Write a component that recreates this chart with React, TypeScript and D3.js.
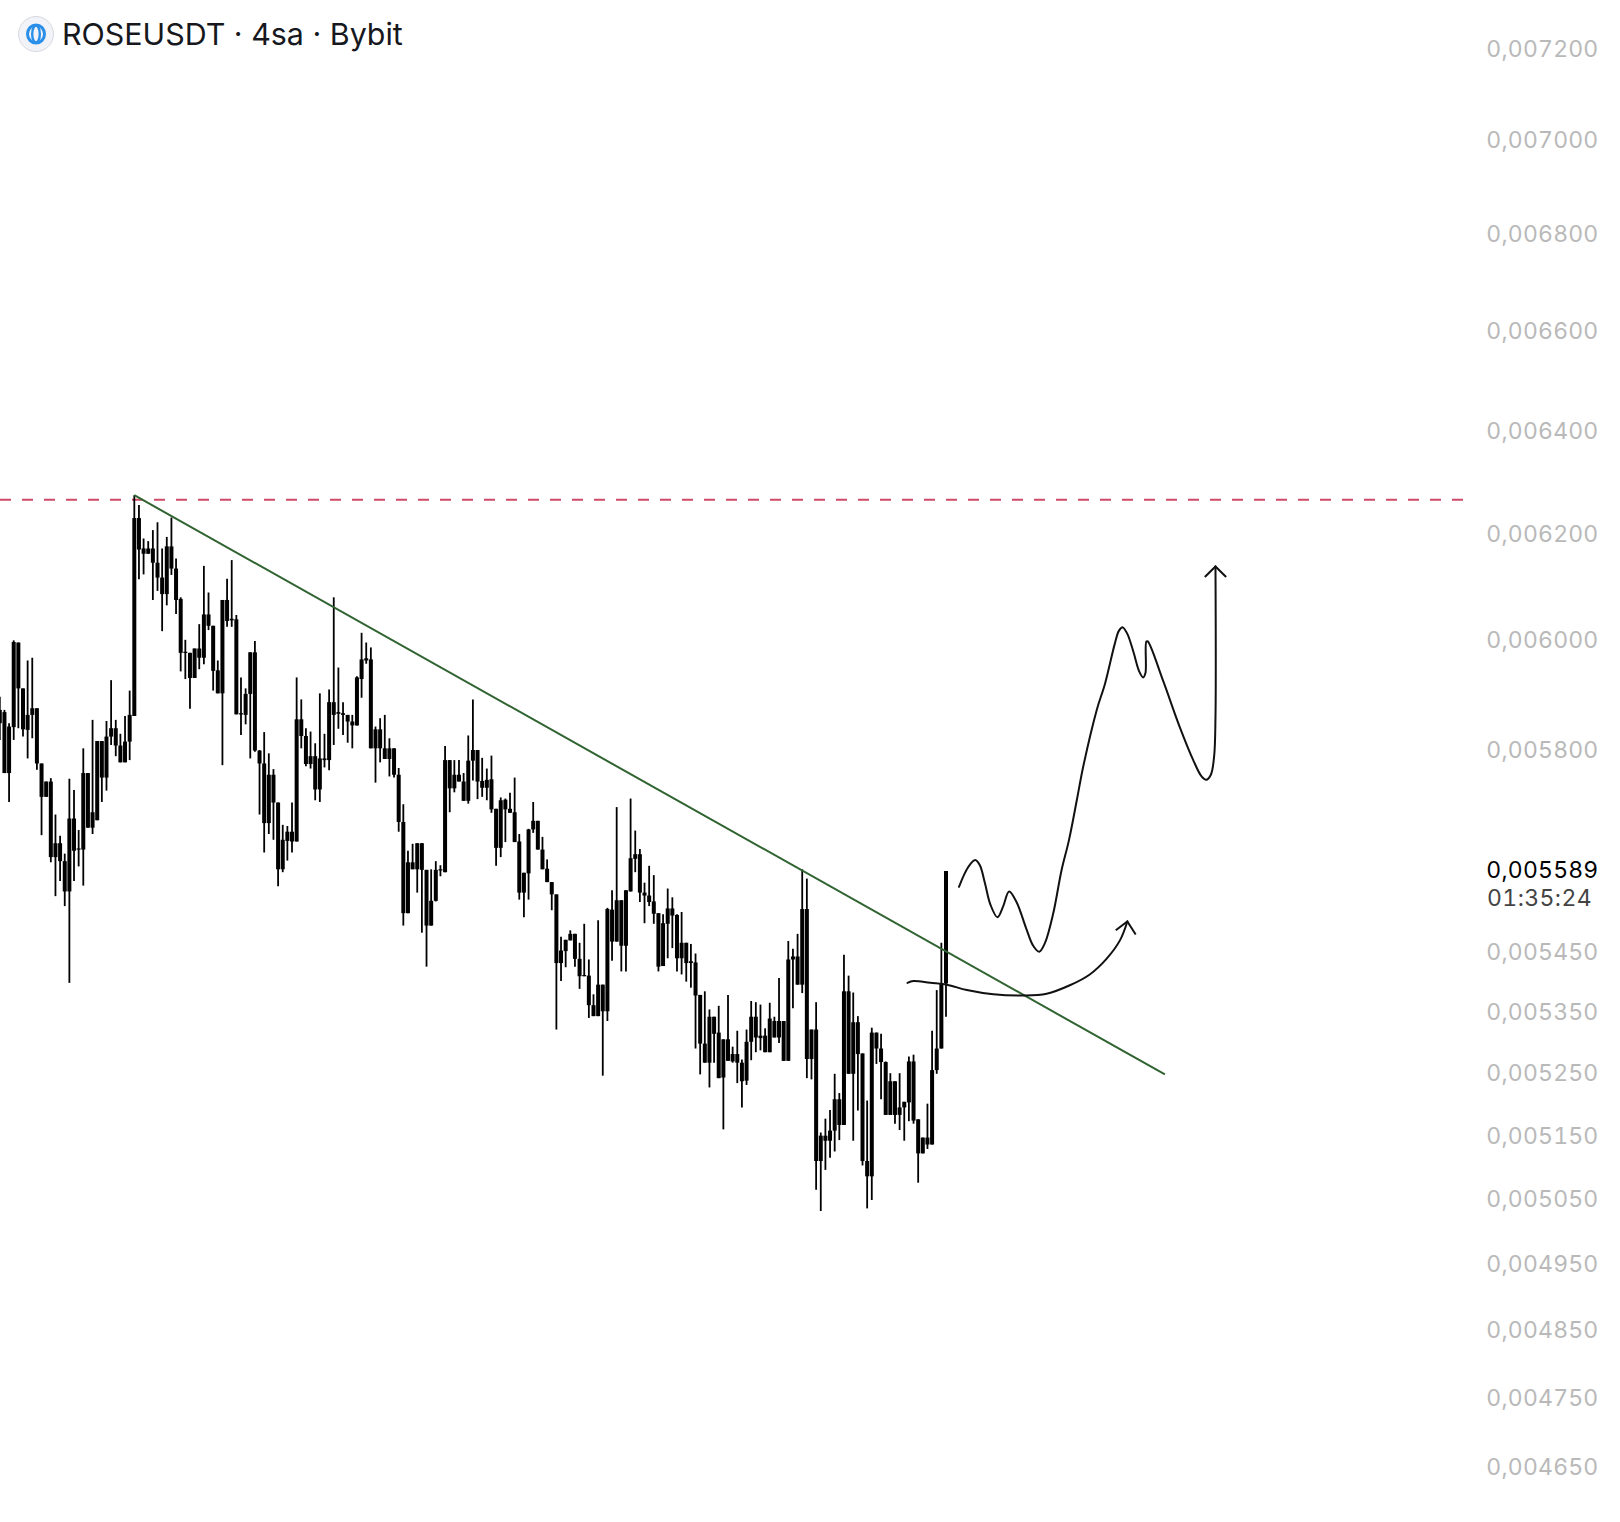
import React from "react";
import * as d3 from "d3";

const WIDTH = 1620;
const HEIGHT = 1522;
const TITLE = "ROSEUSDT · 4sa · Bybit";

// Prices in millionths of a USDT (5589 = 0,005589)
const highs = [
5900,5876,5852,6003,5999,5915,5966,5971,5879,5780,5748,5754,5690,5653,5622,5753,5733,5663,5807,5763,
5858,5820,5820,5856,5930,5858,5833,5865,5911,6277,6258,6194,6189,6210,6225,6175,6197,6234,6156,6083,
6004,5980,5988,6033,6142,6092,6030,5966,6078,6118,6153,6050,5935,5915,5981,6002,5804,5836,5798,5770,
5711,5672,5670,5711,5935,5895,5843,5837,5816,5906,5833,5913,6083,5953,5890,5867,5867,5937,6017,5999,
5990,5846,5861,5867,5825,5807,5772,5708,5627,5639,5640,5640,5594,5595,5609,5602,5811,5786,5786,5786,
5763,5830,5895,5804,5790,5771,5794,5700,5720,5718,5728,5755,5656,5589,5665,5712,5679,5651,5612,5573,
5552,5480,5475,5491,5485,5470,5502,5442,5384,5508,5400,5529,5559,5703,5542,5559,5718,5662,5630,5572,
5601,5585,5520,5518,5562,5547,5518,5522,5470,5468,5452,5383,5389,5359,5347,5365,5310,5383,5298,5324,
5277,5326,5373,5371,5367,5328,5370,5347,5411,5340,5473,5460,5485,5595,5579,5326,5371,5160,5182,5196,
5254,5223,5450,5415,5387,5348,5287,5211,5329,5321,5319,5274,5255,5242,5255,5209,5282,5285,5181,5152,
5206,5324,5391,5470,5592];
const bodyTops = [
5876,5872,5846,6000,5999,5915,5867,5879,5879,5780,5748,5748,5640,5640,5609,5683,5683,5631,5763,5763,
5694,5820,5820,5828,5843,5843,5812,5819,5867,6233,6233,6175,6175,6175,6148,6120,6179,6179,6137,6080,
5982,5980,5988,5988,6051,6051,6030,5948,6078,6078,6043,6042,5870,5905,5981,5981,5803,5780,5760,5760,
5711,5646,5660,5660,5859,5859,5829,5793,5793,5789,5789,5890,5890,5872,5870,5867,5855,5935,5968,5970,
5968,5841,5841,5807,5807,5807,5760,5677,5607,5607,5640,5640,5594,5541,5594,5595,5786,5786,5760,5760,
5748,5785,5804,5804,5749,5751,5752,5700,5715,5716,5700,5694,5643,5589,5664,5679,5679,5629,5596,5573,
5552,5457,5475,5485,5485,5443,5416,5415,5366,5400,5400,5527,5526,5542,5542,5559,5614,5621,5621,5555,
5550,5540,5520,5503,5528,5528,5517,5470,5470,5439,5437,5383,5303,5347,5347,5321,5310,5310,5286,5286,
5272,5306,5347,5347,5316,5316,5344,5340,5340,5340,5442,5447,5447,5527,5527,5326,5326,5155,5155,5163,
5213,5213,5389,5389,5338,5338,5287,5115,5321,5321,5295,5273,5242,5242,5200,5209,5274,5274,5181,5152,
5152,5260,5295,5402,5592];
const bodyBottoms = [
5852,5763,5763,5845,5915,5841,5840,5867,5780,5721,5721,5616,5616,5609,5557,5557,5627,5629,5629,5667,
5667,5680,5755,5755,5828,5812,5782,5782,5819,5865,6173,6165,6165,6148,6120,6089,6089,6137,6078,5980,
5980,5934,5934,5971,5971,6030,5947,5906,5906,6039,6040,5868,5868,5867,5905,5803,5780,5675,5675,5711,
5595,5595,5644,5643,5643,5829,5779,5779,5734,5734,5786,5786,5867,5869,5867,5855,5848,5848,5932,5966,
5807,5807,5807,5788,5788,5760,5677,5520,5520,5595,5595,5594,5499,5499,5541,5593,5590,5736,5736,5748,
5714,5714,5785,5748,5737,5737,5699,5632,5632,5699,5693,5642,5555,5555,5588,5664,5629,5595,5573,5552,
5436,5436,5456,5474,5443,5414,5414,5366,5348,5348,5356,5356,5472,5472,5465,5465,5557,5613,5555,5550,
5539,5519,5430,5431,5502,5516,5444,5444,5436,5436,5382,5303,5272,5272,5319,5247,5248,5275,5274,5272,
5242,5243,5306,5313,5312,5289,5289,5313,5313,5275,5275,5442,5400,5400,5278,5278,5115,5115,5147,5147,
5163,5172,5172,5254,5254,5286,5115,5091,5091,5295,5273,5188,5188,5188,5188,5200,5208,5179,5127,5127,
5141,5141,5260,5295,5402];
const lows = [
5822,5763,5712,5822,5843,5828,5789,5825,5769,5654,5721,5607,5549,5575,5532,5403,5575,5600,5567,5667,
5656,5680,5712,5732,5813,5793,5782,5782,5786,5865,6117,6126,6165,6078,6095,6020,6068,6125,6052,5946,
5932,5878,5934,5950,5959,6022,5911,5906,5777,6028,6028,5868,5831,5850,5789,5801,5690,5624,5656,5646,
5566,5590,5610,5624,5643,5807,5775,5771,5715,5712,5773,5768,5813,5842,5831,5817,5807,5848,5898,5960,
5807,5746,5782,5788,5757,5755,5660,5499,5520,5595,5555,5487,5430,5499,5540,5583,5590,5694,5729,5748,
5714,5709,5750,5717,5721,5715,5693,5601,5616,5642,5693,5642,5543,5513,5543,5658,5629,5595,5573,5525,
5326,5406,5429,5474,5430,5393,5414,5345,5348,5348,5251,5340,5440,5472,5422,5422,5557,5590,5539,5503,
5532,5502,5422,5431,5444,5461,5422,5417,5405,5395,5295,5253,5272,5232,5272,5247,5165,5275,5272,5239,
5200,5236,5276,5289,5292,5289,5289,5313,5304,5275,5275,5361,5400,5386,5247,5245,5070,5037,5101,5120,
5130,5148,5172,5254,5147,5195,5108,5041,5054,5270,5213,5188,5188,5174,5164,5147,5178,5174,5081,5127,
5134,5141,5254,5295,5347];

// Resistance level and trend line
const levelPrice = 6268;
const trendBars = [29, 251.2];
const trendPrices = [6277, 5253];

// Hand-drawn projections: bar index and price of each stroke point
const swingBars = [206.8,208.8,210.3,211.3,212.4,213.6,215.1,216.3,217.6,219.2,221.3,222.8,224.1,225.3,227.1,228.9,230.5,232.2,233.6,236.5,238.3,240.4,241.3,242.1,243.1,244.4,245.7,246.5,247,247.2,247.5,250.8,254.4,257.3,259.1,260.1,261.1,261.8,262.1,262.1];
const swingPrices = [5565,5599,5611,5602,5571,5534,5513,5531,5557,5539,5494,5465,5455,5469,5519,5593,5645,5715,5775,5876,5924,5997,6021,6027,6015,5982,5945,5935,5943,6001,6001,5929,5845,5786,5757,5751,5760,5792,5863,6141];
const swingHeadBars = [259.8, 262.1, 264.4];
const swingHeadPrices = [6121, 6141, 6121];
const curveBars = [195.7,197,200.6,204.2,208.5,214.2,220.7,225.7,230.7,235,238.6,241.5,243.1];
const curvePrices = [5403,5406,5403,5400,5391,5384,5382,5385,5399,5417,5443,5474,5506];
const curveHeadBars = [240.6, 243.1, 244.9];
const curveHeadPrices = [5491, 5506, 5484];

// Price axis labels
const tickValues = [7200,7000,6800,6600,6400,6200,6000,5800,5450,5350,5250,5150,5050,4950,4850,4750,4650];
const lastPrice = 5589;
const countdown = "01:35:24";

const fontFamily = "Inter, 'Noto Sans', sans-serif";
const label = (v: number) => "0,00" + String(v);

export default function App() {
  const x = d3.scaleLinear().domain([0, 204]).range([-0.2, 946]);
  const y = d3.scaleLog().domain([7200, 4650]).range([49, 1471]);
  const axisY = d3.scaleLog().domain([7200, 4650]).range([48.5, 1466.5]);
  const straight = d3.line<[number, number]>().x((d) => x(d[0])).y((d) => y(d[1]));
  const smooth = d3.line<[number, number]>().x((d) => x(d[0])).y((d) => y(d[1])).curve(d3.curveCatmullRom.alpha(0.5));
  const zip = (a: number[], b: number[]) => a.map((v, i) => [v, b[i]] as [number, number]);

  return (
    <svg width={WIDTH} height={HEIGHT} viewBox={`0 0 ${WIDTH} ${HEIGHT}`}
      style={{ position: "absolute", left: 0, top: 0, display: "block", background: "#fff" }}>
      <line x1={0} x2={1469} y1={y(levelPrice)} y2={y(levelPrice)} stroke="#cf4a68" strokeWidth={2} strokeDasharray="11 11" />
      <g>
        {highs.map((h, i) => (
          <g key={i}>
            <line x1={x(i)} x2={x(i)} y1={y(h)} y2={y(lows[i])} stroke="#000" strokeWidth={1.8} />
            <rect x={x(i) - 2} width={4} y={y(bodyTops[i])}
              height={Math.max(1.2, y(bodyBottoms[i]) - y(bodyTops[i]))} fill="#000" />
          </g>
        ))}
      </g>
      <path d={straight(zip(trendBars, trendPrices)) ?? ""} fill="none" stroke="#2f6330" strokeWidth={2} />
      <path d={smooth(zip(swingBars, swingPrices)) ?? ""} fill="none" stroke="#111" strokeWidth={2} strokeLinecap="round" />
      <path d={straight(zip(swingHeadBars, swingHeadPrices)) ?? ""} fill="none" stroke="#111" strokeWidth={2} />
      <path d={smooth(zip(curveBars, curvePrices)) ?? ""} fill="none" stroke="#111" strokeWidth={2} strokeLinecap="round" />
      <path d={straight(zip(curveHeadBars, curveHeadPrices)) ?? ""} fill="none" stroke="#111" strokeWidth={2} />

      <circle cx={36} cy={34} r={17.5} fill="#f1f3f9" stroke="#d8d9de" strokeWidth={1} />
      <ellipse cx={36} cy={34} rx={8.5} ry={9} fill="none" stroke="#2a8fe8" strokeWidth={3} />
      <ellipse cx={36} cy={34} rx={3.8} ry={8.5} fill="none" stroke="#2a8fe8" strokeWidth={2.4} />
      <text x={62} y={45} fontFamily={fontFamily} fontSize={30.4} fill="#16181d">{TITLE}</text>

      <g fontFamily={fontFamily} fontSize={23} textAnchor="end" letterSpacing={0.2} style={{ fontVariantNumeric: "tabular-nums" }}>
        {tickValues.map((t) => (
          <text key={t} x={1598.5} y={axisY(t)} dy="0.36em" fill="#b9b9b9">{label(t)}</text>
        ))}
        <text x={1598.5} y={axisY(lastPrice)} dy="0.36em" fill="#000">{label(lastPrice)}</text>
        <text x={1487} y={axisY(lastPrice) + 28} dy="0.36em" textAnchor="start" fill="#444" letterSpacing={0.4}>{countdown}</text>
      </g>
    </svg>
  );
}
